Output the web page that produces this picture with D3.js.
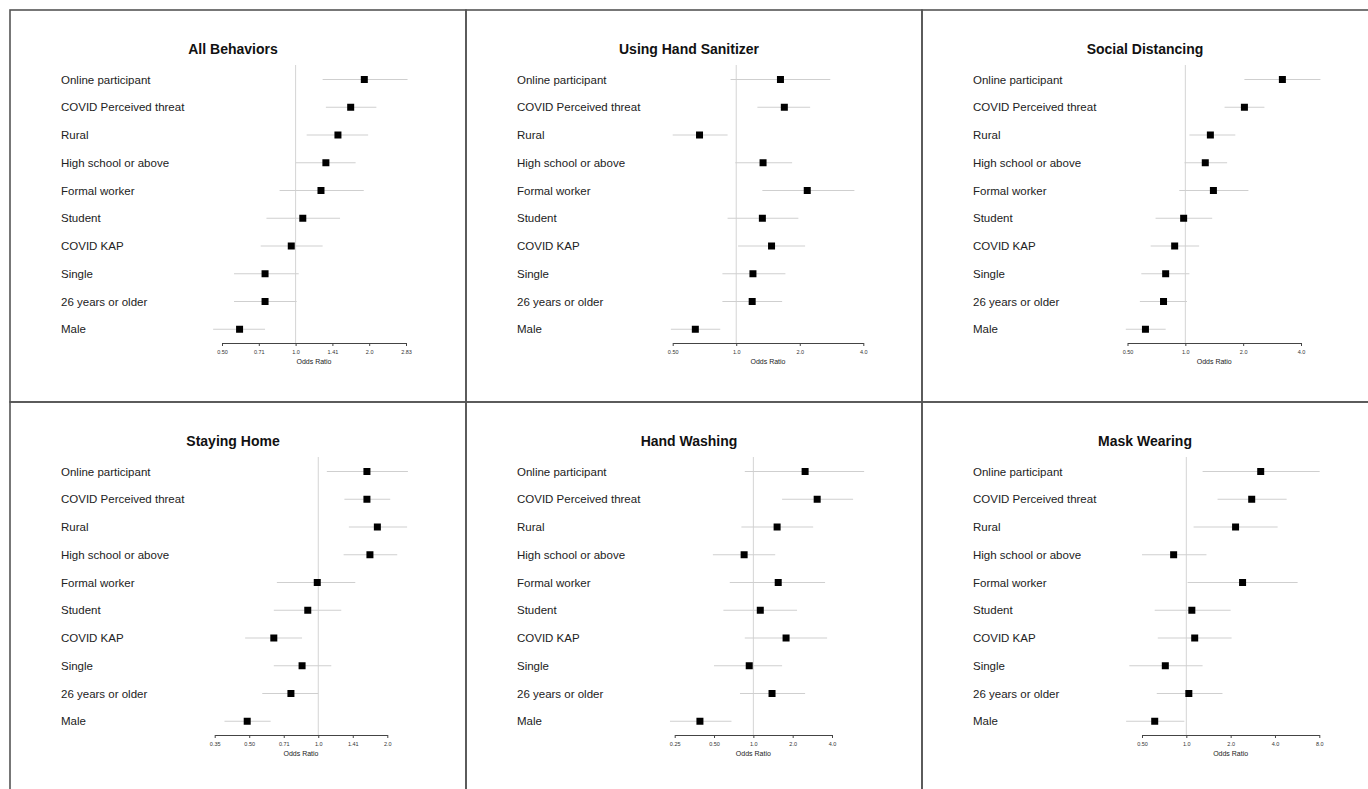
<!DOCTYPE html>
<html>
<head>
<meta charset="utf-8">
<script src="https://cdn.jsdelivr.net/npm/d3@7"></script>
<style>
  body { margin: 0; background: #fff; }
  text { font-family: "Liberation Sans", Arial, sans-serif; }
</style>
</head>
<body>
<svg id="chart" width="1368" height="789"></svg>
<script>
// 变量 (从上到下)
const variables = ["Online participant", "COVID Perceived threat", "Rural", "High school or above",
  "Formal worker", "Student", "COVID KAP", "Single", "26 years or older", "Male"]

const panelTitles = ["All Behaviors", "Using Hand Sanitizer", "Social Distancing",
  "Staying Home", "Hand Washing", "Mask Wearing"]

// odds ratio 估计值 / 下限 / 上限
const allBehaviorsOR = [1.91, 1.68, 1.49, 1.33, 1.27, 1.07, 0.96, 0.75, 0.75, 0.59]
const allBehaviorsLo = [1.29, 1.33, 1.11, 1.00, 0.86, 0.76, 0.72, 0.56, 0.56, 0.46]
const allBehaviorsHi = [2.87, 2.14, 1.98, 1.76, 1.90, 1.52, 1.29, 1.03, 1.01, 0.75]

const sanitizerOR = [1.62, 1.69, 0.67, 1.34, 2.17, 1.33, 1.47, 1.20, 1.19, 0.64]
const sanitizerLo = [0.94, 1.26, 0.50, 0.99, 1.33, 0.91, 1.02, 0.86, 0.86, 0.49]
const sanitizerHi = [2.79, 2.24, 0.91, 1.84, 3.63, 1.97, 2.12, 1.71, 1.65, 0.84]

const distancingOR = [3.20, 2.03, 1.35, 1.27, 1.40, 0.98, 0.88, 0.79, 0.77, 0.62]
const distancingLo = [2.03, 1.60, 1.05, 0.99, 0.93, 0.70, 0.66, 0.59, 0.58, 0.49]
const distancingHi = [5.05, 2.58, 1.82, 1.65, 2.13, 1.38, 1.18, 1.05, 1.02, 0.79]

const homeOR = [1.63, 1.63, 1.81, 1.68, 0.99, 0.90, 0.64, 0.85, 0.76, 0.49]
const homeLo = [1.09, 1.30, 1.36, 1.29, 0.66, 0.64, 0.48, 0.64, 0.57, 0.39]
const homeHi = [2.46, 2.06, 2.44, 2.21, 1.45, 1.26, 0.85, 1.14, 1.00, 0.62]

const washingOR = [2.49, 3.08, 1.52, 0.85, 1.55, 1.13, 1.78, 0.93, 1.39, 0.39]
const washingLo = [0.86, 1.66, 0.81, 0.49, 0.66, 0.59, 0.86, 0.50, 0.79, 0.23]
const washingHi = [7.05, 5.80, 2.87, 1.47, 3.54, 2.16, 3.67, 1.66, 2.49, 0.68]

const maskOR = [3.20, 2.78, 2.16, 0.82, 2.41, 1.09, 1.14, 0.72, 1.04, 0.61]
const maskLo = [1.29, 1.63, 1.12, 0.50, 1.02, 0.61, 0.64, 0.41, 0.63, 0.39]
const maskHi = [8.05, 4.80, 4.17, 1.37, 5.70, 2.00, 2.03, 1.29, 1.76, 0.97]

const panelOR = [allBehaviorsOR, sanitizerOR, distancingOR, homeOR, washingOR, maskOR]
const panelLo = [allBehaviorsLo, sanitizerLo, distancingLo, homeLo, washingLo, maskLo]
const panelHi = [allBehaviorsHi, sanitizerHi, distancingHi, homeHi, washingHi, maskHi]

// 坐标轴刻度
const tickValues = [
  [0.5, Math.SQRT1_2, 1, Math.SQRT2, 2, 2 * Math.SQRT2],
  [0.5, 1, 2, 4],
  [0.5, 1, 2, 4],
  [Math.SQRT1_2 / 2, 0.5, Math.SQRT1_2, 1, Math.SQRT2, 2],
  [0.25, 0.5, 1, 2, 4],
  [0.5, 1, 2, 4, 8]
]
const tickLabels = [
  ["0.50", "0.71", "1.0", "1.41", "2.0", "2.83"],
  ["0.50", "1.0", "2.0", "4.0"],
  ["0.50", "1.0", "2.0", "4.0"],
  ["0.35", "0.50", "0.71", "1.0", "1.41", "2.0"],
  ["0.25", "0.50", "1.0", "2.0", "4.0"],
  ["0.50", "1.0", "2.0", "4.0", "8.0"]
]

// 布局
const panelW = 456, panelH = 392
const origin = [10, 10]
const axisPx = [[212, 396], [206.7, 397.3], [205.5, 379], [204.7, 377.3], [208.7, 366], [220, 397.3]]
const rowTop = 69.5, rowStep = 27.75
const axisY = 333

const svg = d3.select('#chart')

panelTitles.forEach((title, p) => {
  const col = p % 3, row = Math.floor(p / 3)
  const g = svg.append('g')
    .attr('transform', `translate(${origin[0] + col * panelW}, ${origin[1] + row * panelH})`)

  const x = d3.scaleLog().base(2)
    .domain([tickValues[p][0], tickValues[p][tickValues[p].length - 1]])
    .range(axisPx[p])

  const y = d3.scalePoint()
    .domain(variables)
    .range([rowTop, rowTop + rowStep * (variables.length - 1)])

  g.append('text')
    .attr('x', 223)
    .attr('y', 44)
    .attr('text-anchor', 'middle')
    .style('font-size', '14px')
    .style('font-weight', 'bold')
    .attr('fill', '#111')
    .text(title)

  g.selectAll('text.label').data(variables).join('text')
    .attr('class', 'label')
    .attr('x', 51)
    .attr('y', d => y(d))
    .attr('dy', '0.36em')
    .style('font-size', '11.5px')
    .attr('fill', '#222')
    .text(d => d)

  // 参考线 OR = 1
  g.append('line')
    .attr('x1', x(1)).attr('x2', x(1))
    .attr('y1', 55).attr('y2', axisY)
    .attr('stroke', '#d4d4d4')
    .attr('stroke-width', 1)

  const rows = variables.map((v, i) => ({ v, or: panelOR[p][i], lo: panelLo[p][i], hi: panelHi[p][i] }))

  g.selectAll('line.ci').data(rows).join('line')
    .attr('class', 'ci')
    .attr('x1', d => x(d.lo)).attr('x2', d => x(d.hi))
    .attr('y1', d => y(d.v)).attr('y2', d => y(d.v))
    .attr('stroke', '#cfcfcf')
    .attr('stroke-width', 1)

  const box = 7
  g.selectAll('rect.box').data(rows).join('rect')
    .attr('class', 'box')
    .attr('x', d => x(d.or) - box / 2)
    .attr('y', d => y(d.v) - box / 2)
    .attr('width', box).attr('height', box)
    .attr('fill', '#000')

  const axis = d3.axisBottom(x)
    .tickValues(tickValues[p])
    .tickFormat((d, i) => tickLabels[p][i])
    .tickSize(3)
    .tickSizeOuter(0)

  const ax = g.append('g')
    .attr('transform', `translate(0, ${axisY})`)
    .call(axis)
  ax.select('.domain').attr('stroke', '#444')
  ax.selectAll('.tick line').attr('stroke', '#444')
  ax.selectAll('.tick text')
    .attr('y', 7)
    .style('font-size', '5.5px')
    .style('font-family', '"Liberation Sans", Arial, sans-serif')
    .attr('fill', '#333')

  g.append('text')
    .attr('x', (axisPx[p][0] + axisPx[p][1]) / 2)
    .attr('y', axisY + 21)
    .attr('text-anchor', 'middle')
    .style('font-size', '7px')
    .attr('fill', '#222')
    .text('Odds Ratio')

  g.append('rect')
    .attr('x', 0).attr('y', 0)
    .attr('width', panelW).attr('height', panelH)
    .attr('fill', 'none')
    .attr('stroke', '#555')
    .attr('stroke-width', 1.6)
})
</script>
</body>
</html>
